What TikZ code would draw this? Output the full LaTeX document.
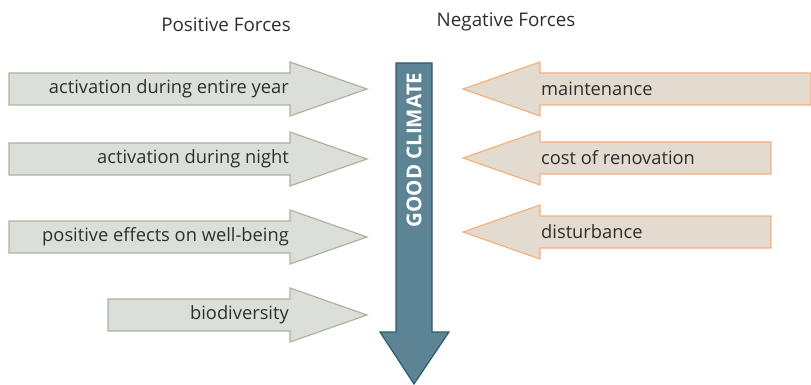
\documentclass[tikz,border=0pt]{standalone}
\usepackage{fontspec}
\setmainfont{Open Sans}
\usetikzlibrary{positioning}

\definecolor{posfill}{HTML}{DCDFD9}
\definecolor{posline}{HTML}{A9B59E}
\definecolor{negfill}{HTML}{E3DAD0}
\definecolor{negline}{HTML}{F2B27E}
\definecolor{climfill}{HTML}{5C8494}
\definecolor{climline}{HTML}{2E5A6C}
\definecolor{txtgray}{HTML}{2E2E2E}

\begin{document}
\begin{tikzpicture}[
    x=1pt,
    y=-1pt,
    posarrow/.style={fill=posfill,draw=posline,line width=1.2pt},
    negarrow/.style={fill=negfill,draw=negline,line width=1.2pt},
    label/.style={font=\fontsize{18.3}{21}\selectfont,text=txtgray,inner sep=0pt},
    heading/.style={font=\fontsize{18.8}{22}\selectfont,text=txtgray,inner sep=0pt}
]

\useasboundingbox (0,0) rectangle (811,385);

% Naglowki
\node[heading] (postitle) at (226,25)
    {Positive Forces};

\node[heading] (negtitle) at (506,22)
    {Negative Forces};

% Strzalka srodkowa
\draw[fill=climfill,draw=climline,line width=1.2pt]
    (396,63)
    --
    (432,63)
    --
    (432,332)
    --
    (449,332)
    --
    (414,384)
    --
    (380,332)
    --
    (396,332)
    --
    cycle;

\node[rotate=90,text=white,inner sep=0pt,
      font=\fontsize{20.5}{24}\selectfont\bfseries] (climate) at (414,150)
    {GOOD CLIMATE};

% Sily pozytywne
\draw[posarrow]
    (9,73) -- (290,73) -- (290,62)
    -- (367,89)
    -- (290,116) -- (290,105) -- (9,105) -- cycle;

\draw[posarrow]
    (9,143) -- (290,143) -- (290,132)
    -- (367,159)
    -- (290,186) -- (290,175) -- (9,175) -- cycle;

\draw[posarrow]
    (9,221) -- (290,221) -- (290,210)
    -- (367,237)
    -- (290,264) -- (290,253) -- (9,253) -- cycle;

\draw[posarrow]
    (108,299) -- (290,299) -- (290,288)
    -- (367,315)
    -- (290,342) -- (290,331) -- (108,331) -- cycle;

\node[label,anchor=east] (year) at (289,89)
    {activation during entire year};

\node[label,anchor=east] (night) at (289,159)
    {activation during night};

\node[label,anchor=east] (wellbeing) at (289,237)
    {positive effects on well-being};

\node[label,anchor=east] (biodiv) at (289,315)
    {biodiversity};

% Sily negatywne
\draw[negarrow]
    (811,73) -- (540,73) -- (540,62)
    -- (463,89)
    -- (540,116) -- (540,105) -- (811,105) -- cycle;

\draw[negarrow]
    (771,142) -- (540,142) -- (540,131)
    -- (463,158)
    -- (540,185) -- (540,174) -- (771,174) -- cycle;

\draw[negarrow]
    (771,216) -- (540,216) -- (540,205)
    -- (463,232)
    -- (540,259) -- (540,248) -- (771,248) -- cycle;

\node[label,anchor=west] (maint) at (541,89)
    {maintenance};

\node[label,anchor=west] (renov) at (541,158)
    {cost of renovation};

\node[label,anchor=west] (disturb) at (541,232)
    {disturbance};

\end{tikzpicture}
\end{document}
